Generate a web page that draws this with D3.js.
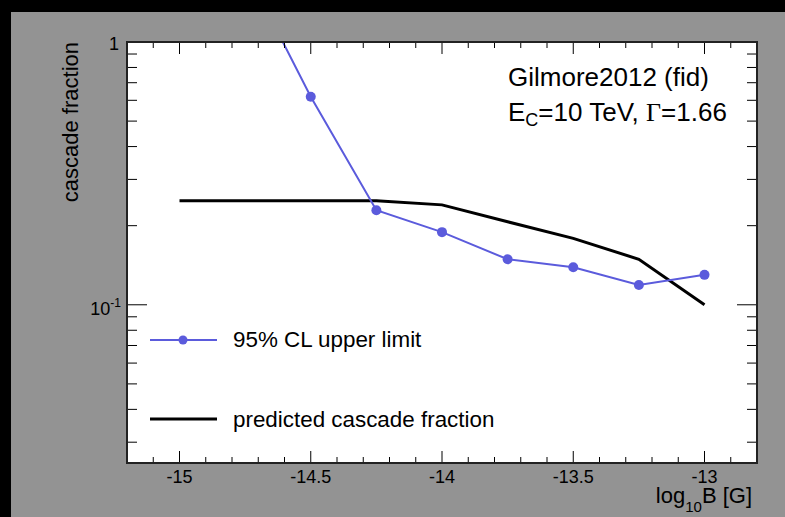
<!DOCTYPE html>
<html><head><meta charset="utf-8">
<script src="https://cdn.jsdelivr.net/npm/d3@7"></script>
<style>html,body{margin:0;padding:0;background:#000;}svg{display:block;}</style>
</head><body>
<script>
const xValuesLimit = [-14.75, -14.5, -14.25, -14.0, -13.75, -13.5, -13.25, -13.0];
const upperLimit   = [1.91, 0.619, 0.229, 0.189, 0.149, 0.139, 0.119, 0.130];
const xValuesPred  = [-15.0, -14.25, -14.0, -13.75, -13.5, -13.25, -13.0];
const predicted    = [0.249, 0.249, 0.240, 0.207, 0.179, 0.149, 0.100];
const xMajorTicks  = [-15, -14.5, -14, -13.5, -13];
const xTickLabels  = ["-15", "-14.5", "-14", "-13.5", "-13"];
const legendLabels = ["95% CL upper limit", "predicted cascade fraction"];

const W = 785, H = 517;
const L = 127, T = 42, R = 757, B = 463;
const blue = "#5b5bdc";
const font = "'Liberation Sans', Arial, Helvetica, sans-serif";

const svg = d3.select("body").append("svg").attr("width", W).attr("height", H);
svg.append("rect").attr("x", 0).attr("y", 0).attr("width", W).attr("height", H).attr("fill", "#000");
svg.append("rect").attr("x", 11).attr("y", 12).attr("width", W - 11).attr("height", H - 12).attr("fill", "#939393");
svg.append("rect").attr("x", L).attr("y", T).attr("width", R - L).attr("height", B - T).attr("fill", "#fff");

const x = d3.scaleLinear().domain([-15.2, -12.8]).range([L, R]);
const y = d3.scaleLog().domain([0.025, 1]).range([B, T]);

svg.append("clipPath").attr("id", "clip").append("rect")
  .attr("x", L).attr("y", T).attr("width", R - L).attr("height", B - T);

const gData = svg.append("g").attr("clip-path", "url(#clip)");
const line = d3.line().x(d => x(d[0])).y(d => y(d[1]));

const predPts = xValuesPred.map((v, i) => [v, predicted[i]]);
gData.append("path").attr("d", line(predPts)).attr("fill", "none")
  .attr("stroke", "#000").attr("stroke-width", 3).attr("stroke-linejoin", "miter");

const limPts = xValuesLimit.map((v, i) => [v, upperLimit[i]]);
gData.append("path").attr("d", line(limPts)).attr("fill", "none")
  .attr("stroke", blue).attr("stroke-width", 2);
gData.selectAll("circle.pt").data(limPts).join("circle").attr("class", "pt")
  .attr("cx", d => x(d[0])).attr("cy", d => y(d[1])).attr("r", 5).attr("fill", blue);

// Axes ticks
const gAx = svg.append("g").attr("stroke", "#000").attr("stroke-width", 1);
const xMinor = d3.range(-151, -127).map(v => v / 10).filter(v => !xMajorTicks.some(m => Math.abs(m - v) < 1e-6));
xMajorTicks.forEach(v => {
  gAx.append("line").attr("x1", x(v)).attr("x2", x(v)).attr("y1", B).attr("y2", B - 12);
  gAx.append("line").attr("x1", x(v)).attr("x2", x(v)).attr("y1", T).attr("y2", T + 12);
});
xMinor.forEach(v => {
  gAx.append("line").attr("x1", x(v)).attr("x2", x(v)).attr("y1", B).attr("y2", B - 6);
  gAx.append("line").attr("x1", x(v)).attr("x2", x(v)).attr("y1", T).attr("y2", T + 6);
});
const yMajor = [0.1, 1];
const yMinor = [0.03, 0.04, 0.05, 0.06, 0.07, 0.08, 0.09, 0.2, 0.3, 0.4, 0.5, 0.6, 0.7, 0.8, 0.9];
yMajor.forEach(v => {
  gAx.append("line").attr("x1", L).attr("x2", L + 20).attr("y1", y(v)).attr("y2", y(v));
  gAx.append("line").attr("x1", R).attr("x2", R - 20).attr("y1", y(v)).attr("y2", y(v));
});
yMinor.forEach(v => {
  gAx.append("line").attr("x1", L).attr("x2", L + 10).attr("y1", y(v)).attr("y2", y(v));
  gAx.append("line").attr("x1", R).attr("x2", R - 10).attr("y1", y(v)).attr("y2", y(v));
});

svg.append("rect").attr("x", L).attr("y", T).attr("width", R - L).attr("height", B - T)
  .attr("fill", "none").attr("stroke", "#222").attr("stroke-width", 2);

// tick labels
const gLab = svg.append("g").attr("font-family", font).attr("fill", "#000");
xMajorTicks.forEach((v, i) => {
  gLab.append("text").attr("x", x(v)).attr("y", 483).attr("text-anchor", "middle")
    .attr("font-size", 18).text(xTickLabels[i]);
});
gLab.append("text").attr("x", 119).attr("y", y(1) + 8).attr("text-anchor", "end")
  .attr("font-size", 18).text("1");
const t10 = gLab.append("text").attr("x", 121).attr("y", y(0.1) + 10).attr("text-anchor", "end")
  .attr("font-size", 18);
t10.append("tspan").text("10");
t10.append("tspan").attr("font-size", 12).attr("dy", -8).text("-1");

// axis titles
const xt = gLab.append("text").attr("x", 752).attr("y", 503).attr("text-anchor", "end").attr("font-size", 22);
xt.append("tspan").text("log");
xt.append("tspan").attr("font-size", 15).attr("dy", 9).text("10");
xt.append("tspan").attr("dy", -9).text("B [G]");

gLab.append("text").attr("transform", `translate(78,${T}) rotate(-90)`).attr("text-anchor", "end")
  .attr("font-size", 22).text("cascade fraction");

// annotation
gLab.append("text").attr("x", 508).attr("y", 86).attr("font-size", 26).text("Gilmore2012 (fid)");
const an = gLab.append("text").attr("x", 508).attr("y", 121).attr("font-size", 26);
an.append("tspan").text("E");
an.append("tspan").attr("font-size", 18).attr("dy", 5).text("C");
an.append("tspan").attr("dy", -5).text("=10 TeV, ");
an.append("tspan").attr("font-family", "'Liberation Serif', 'Times New Roman', serif").text("Γ");
an.append("tspan").text("=1.66");

// legend
const gLeg = svg.append("g");
gLeg.append("line").attr("x1", 150).attr("x2", 217).attr("y1", 340).attr("y2", 340)
  .attr("stroke", blue).attr("stroke-width", 2);
gLeg.append("circle").attr("cx", 183).attr("cy", 340).attr("r", 4.5).attr("fill", blue);
gLeg.append("line").attr("x1", 150).attr("x2", 217).attr("y1", 419).attr("y2", 419)
  .attr("stroke", "#000").attr("stroke-width", 3);
gLeg.append("text").attr("x", 233).attr("y", 347).attr("font-family", font).attr("font-size", 22.4).text(legendLabels[0]);
gLeg.append("text").attr("x", 233).attr("y", 427).attr("font-family", font).attr("font-size", 22.4).text(legendLabels[1]);
</script>
</body></html>
